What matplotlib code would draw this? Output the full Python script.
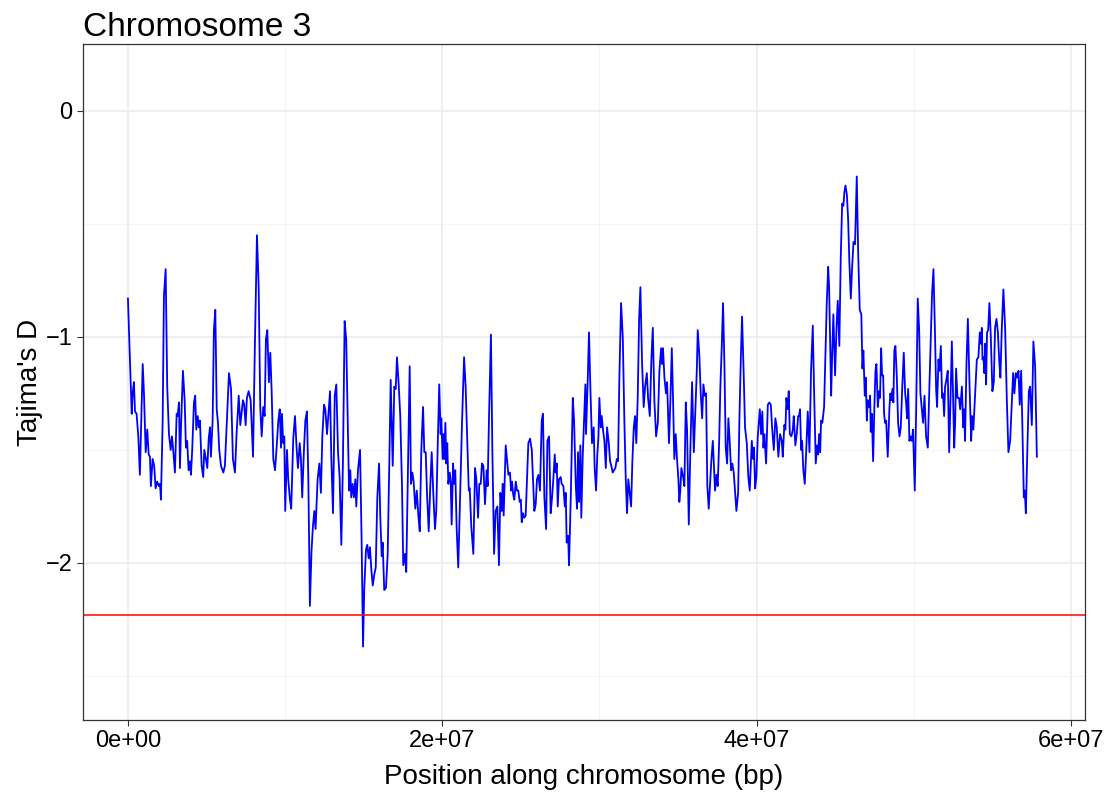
import numpy as np
import matplotlib
matplotlib.use('Agg')
import matplotlib.pyplot as plt
from matplotlib.ticker import FixedLocator, FuncFormatter

# Plot settings
plt.rcParams['font.family'] = ['Liberation Sans', 'DejaVu Sans']
plt.rcParams['font.size'] = 17

# Data: window position (Mb) and Tajima's D
pos_mb = [
    0.00, 0.24, 0.30, 0.38, 0.45, 0.55, 0.66, 0.76, 0.94, 1.02, 1.13, 1.23, 1.32, 1.40, 1.46, 1.57,
    1.67, 1.76, 1.86, 1.97, 2.04, 2.10, 2.21, 2.29, 2.40, 2.50, 2.61, 2.72, 2.80, 2.88, 2.99, 3.10,
    3.16, 3.25, 3.31, 3.39, 3.50, 3.61, 3.69, 3.77, 3.86, 3.95, 4.01, 4.09, 4.20, 4.28, 4.35, 4.44,
    4.52, 4.58, 4.69, 4.79, 4.86, 4.96, 5.05, 5.14, 5.22, 5.28, 5.39, 5.47, 5.56, 5.65, 5.73, 5.81,
    5.92, 6.07, 6.17, 6.35, 6.43, 6.56, 6.68, 6.81, 6.92, 7.05, 7.15, 7.32, 7.40, 7.49, 7.57, 7.68,
    7.81, 7.87, 7.96, 8.08, 8.21, 8.32, 8.42, 8.51, 8.61, 8.70, 8.78, 8.87, 8.97, 9.06, 9.15, 9.25,
    9.36, 9.46, 9.57, 9.66, 9.74, 9.80, 9.88, 9.95, 10.01, 10.12, 10.20, 10.31, 10.39, 10.52, 10.63, 10.74,
    10.82, 10.93, 11.01, 11.09, 11.20, 11.29, 11.39, 11.48, 11.58, 11.68, 11.77, 11.86, 11.94, 12.07, 12.18, 12.28,
    12.37, 12.48, 12.56, 12.67, 12.79, 12.86, 12.94, 13.05, 13.16, 13.26, 13.37, 13.47, 13.58, 13.68, 13.79, 13.89,
    13.96, 14.07, 14.15, 14.21, 14.30, 14.38, 14.47, 14.53, 14.64, 14.77, 14.87, 14.96, 15.04, 15.15, 15.23, 15.32,
    15.40, 15.49, 15.58, 15.68, 15.77, 15.87, 15.98, 16.06, 16.15, 16.21, 16.31, 16.42, 16.53, 16.63, 16.72, 16.85,
    16.95, 17.04, 17.12, 17.23, 17.33, 17.44, 17.52, 17.63, 17.71, 17.82, 17.93, 18.01, 18.10, 18.18, 18.29, 18.38,
    18.48, 18.57, 18.67, 18.78, 18.86, 18.95, 19.03, 19.14, 19.24, 19.33, 19.43, 19.54, 19.62, 19.71, 19.81, 19.90,
    19.94, 20.03, 20.09, 20.13, 20.20, 20.26, 20.32, 20.39, 20.48, 20.54, 20.60, 20.69, 20.75, 20.83, 20.92, 21.02,
    21.13, 21.26, 21.39, 21.49, 21.60, 21.69, 21.75, 21.85, 21.98, 22.09, 22.17, 22.28, 22.36, 22.45, 22.53, 22.62,
    22.72, 22.83, 22.89, 22.98, 23.10, 23.19, 23.30, 23.40, 23.51, 23.61, 23.70, 23.79, 23.85, 23.91, 23.98, 24.04,
    24.12, 24.21, 24.31, 24.38, 24.44, 24.52, 24.59, 24.68, 24.76, 24.84, 24.93, 25.00, 25.06, 25.14, 25.22, 25.31,
    25.38, 25.48, 25.59, 25.70, 25.78, 25.86, 25.95, 26.03, 26.12, 26.22, 26.33, 26.41, 26.50, 26.61, 26.69, 26.80,
    26.90, 26.99, 27.07, 27.16, 27.22, 27.29, 27.35, 27.43, 27.54, 27.60, 27.71, 27.80, 27.86, 27.92, 28.01, 28.07,
    28.18, 28.31, 28.39, 28.50, 28.58, 28.64, 28.71, 28.79, 28.85, 28.94, 29.04, 29.11, 29.15, 29.26, 29.34, 29.43,
    29.53, 29.64, 29.70, 29.79, 29.87, 29.94, 30.00, 30.09, 30.15, 30.23, 30.32, 30.41, 30.49, 30.60, 30.68, 30.76,
    30.85, 30.93, 31.02, 31.11, 31.19, 31.27, 31.38, 31.49, 31.59, 31.68, 31.76, 31.84, 31.93, 32.02, 32.10, 32.19,
    32.27, 32.35, 32.44, 32.53, 32.61, 32.72, 32.82, 32.91, 33.02, 33.10, 33.21, 33.31, 33.40, 33.50, 33.61, 33.72,
    33.82, 33.93, 33.99, 34.05, 34.14, 34.24, 34.31, 34.43, 34.52, 34.61, 34.69, 34.77, 34.86, 34.94, 35.03, 35.09,
    35.15, 35.22, 35.33, 35.41, 35.50, 35.58, 35.69, 35.79, 35.90, 36.01, 36.11, 36.20, 36.26, 36.36, 36.45, 36.54,
    36.62, 36.71, 36.79, 36.87, 36.96, 37.04, 37.13, 37.22, 37.28, 37.36, 37.45, 37.53, 37.62, 37.70, 37.79, 37.87,
    37.96, 38.04, 38.13, 38.21, 38.30, 38.38, 38.46, 38.55, 38.64, 38.72, 38.83, 38.91, 39.00, 39.08, 39.19, 39.27,
    39.38, 39.48, 39.57, 39.70, 39.78, 39.84, 39.91, 39.99, 40.08, 40.21, 40.29, 40.37, 40.44, 40.50, 40.61, 40.72,
    40.82, 40.91, 40.99, 41.10, 41.20, 41.29, 41.39, 41.50, 41.61, 41.67, 41.77, 41.84, 41.90, 41.99, 42.05, 42.12,
    42.22, 42.31, 42.37, 42.47, 42.56, 42.65, 42.71, 42.77, 42.84, 42.90, 42.98, 43.07, 43.16, 43.26, 43.37, 43.47,
    43.58, 43.68, 43.77, 43.86, 43.92, 43.98, 44.05, 44.11, 44.19, 44.30, 44.41, 44.47, 44.56, 44.62, 44.68, 44.75,
    44.81, 44.89, 45.00, 45.09, 45.17, 45.27, 45.36, 45.45, 45.53, 45.59, 45.66, 45.75, 45.83, 45.91, 46.00, 46.08,
    46.17, 46.27, 46.38, 46.47, 46.57, 46.67, 46.74, 46.80, 46.89, 46.95, 47.02, 47.08, 47.16, 47.23, 47.27, 47.34,
    47.42, 47.50, 47.57, 47.63, 47.72, 47.80, 47.86, 47.93, 47.99, 48.06, 48.12, 48.18, 48.25, 48.35, 48.46, 48.52,
    48.58, 48.65, 48.71, 48.77, 48.84, 48.93, 49.01, 49.10, 49.18, 49.27, 49.37, 49.46, 49.52, 49.58, 49.65, 49.73,
    49.79, 49.88, 49.96, 50.07, 50.16, 50.26, 50.35, 50.43, 50.52, 50.60, 50.69, 50.79, 50.90, 50.99, 51.09, 51.17,
    51.26, 51.35, 51.43, 51.49, 51.58, 51.64, 51.73, 51.81, 51.87, 51.94, 52.00, 52.08, 52.17, 52.26, 52.34, 52.43,
    52.51, 52.58, 52.64, 52.70, 52.79, 52.89, 52.96, 53.07, 53.15, 53.21, 53.27, 53.36, 53.45, 53.55, 53.66, 53.72,
    53.80, 53.91, 54.02, 54.12, 54.21, 54.27, 54.34, 54.38, 54.44, 54.50, 54.55, 54.61, 54.67, 54.74, 54.82, 54.91,
    55.01, 55.10, 55.18, 55.27, 55.36, 55.44, 55.52, 55.61, 55.71, 55.82, 55.93, 56.03, 56.14, 56.25, 56.33, 56.41,
    56.50, 56.58, 56.67, 56.75, 56.84, 56.92, 57.01, 57.07, 57.14, 57.22, 57.33, 57.41, 57.52, 57.62, 57.73, 57.84,
]
tajima_d = [
    -0.83, -1.34, -1.25, -1.20, -1.33, -1.34, -1.44, -1.61, -1.12, -1.25, -1.51, -1.41, -1.52, -1.53, -1.66, -1.54,
    -1.57, -1.67, -1.64, -1.66, -1.65, -1.72, -1.37, -0.82, -0.70, -1.22, -1.43, -1.50, -1.44, -1.50, -1.60, -1.34,
    -1.35, -1.29, -1.58, -1.37, -1.15, -1.28, -1.49, -1.46, -1.59, -1.55, -1.61, -1.50, -1.29, -1.26, -1.41, -1.35,
    -1.40, -1.37, -1.57, -1.62, -1.50, -1.54, -1.58, -1.45, -1.40, -1.53, -1.37, -0.97, -0.88, -1.32, -1.38, -1.50,
    -1.57, -1.60, -1.57, -1.28, -1.16, -1.23, -1.54, -1.60, -1.42, -1.26, -1.39, -1.28, -1.30, -1.39, -1.27, -1.24,
    -1.28, -1.38, -1.53, -1.03, -0.55, -0.78, -1.31, -1.44, -1.31, -1.35, -1.01, -0.97, -1.20, -1.07, -1.25, -1.54,
    -1.59, -1.49, -1.37, -1.32, -1.49, -1.34, -1.47, -1.44, -1.77, -1.50, -1.63, -1.72, -1.76, -1.45, -1.35, -1.50,
    -1.58, -1.47, -1.54, -1.71, -1.50, -1.37, -1.33, -1.63, -2.19, -1.95, -1.84, -1.77, -1.85, -1.63, -1.56, -1.69,
    -1.44, -1.30, -1.32, -1.43, -1.31, -1.24, -1.53, -1.78, -1.26, -1.21, -1.51, -1.62, -1.92, -1.56, -0.93, -1.01,
    -1.28, -1.68, -1.59, -1.71, -1.65, -1.71, -1.63, -1.75, -1.59, -1.50, -1.90, -2.37, -2.11, -1.94, -1.92, -1.98,
    -1.93, -2.03, -2.10, -2.05, -2.02, -1.71, -1.56, -1.80, -1.97, -1.91, -2.12, -2.11, -1.96, -1.57, -1.19, -1.57,
    -1.22, -1.23, -1.09, -1.21, -1.35, -1.66, -2.01, -1.96, -2.04, -1.57, -1.13, -1.65, -1.60, -1.64, -1.76, -1.68,
    -1.79, -1.86, -1.50, -1.31, -1.51, -1.51, -1.69, -1.86, -1.66, -1.51, -1.69, -1.85, -1.77, -1.49, -1.21, -1.43,
    -1.36, -1.54, -1.43, -1.54, -1.38, -1.56, -1.47, -1.65, -1.60, -1.64, -1.83, -1.56, -1.65, -1.59, -1.85, -2.02,
    -1.72, -1.38, -1.09, -1.22, -1.47, -1.68, -1.67, -1.84, -1.96, -1.58, -1.63, -1.80, -1.65, -1.65, -1.56, -1.57,
    -1.74, -1.59, -1.66, -1.35, -0.99, -1.50, -1.96, -1.77, -1.75, -2.01, -1.69, -1.77, -1.65, -1.79, -1.62, -1.48,
    -1.54, -1.61, -1.60, -1.68, -1.64, -1.70, -1.72, -1.64, -1.68, -1.68, -1.73, -1.72, -1.82, -1.78, -1.80, -1.79,
    -1.66, -1.47, -1.45, -1.50, -1.63, -1.77, -1.74, -1.63, -1.61, -1.68, -1.37, -1.34, -1.71, -1.85, -1.46, -1.44,
    -1.78, -1.71, -1.63, -1.52, -1.60, -1.56, -1.75, -1.63, -1.62, -1.65, -1.66, -1.75, -1.69, -1.91, -1.88, -2.01,
    -1.71, -1.27, -1.37, -1.66, -1.76, -1.51, -1.73, -1.48, -1.80, -1.53, -1.34, -1.21, -1.43, -1.19, -0.98, -1.23,
    -1.47, -1.40, -1.58, -1.68, -1.52, -1.44, -1.27, -1.40, -1.35, -1.41, -1.46, -1.58, -1.40, -1.47, -1.55, -1.57,
    -1.60, -1.59, -1.58, -1.54, -1.55, -1.19, -0.85, -1.00, -1.37, -1.63, -1.78, -1.63, -1.69, -1.75, -1.55, -1.40,
    -1.35, -1.47, -1.27, -0.92, -0.78, -1.12, -1.31, -1.22, -1.16, -1.27, -1.35, -1.10, -0.96, -1.28, -1.44, -1.38,
    -1.15, -1.05, -1.12, -1.05, -1.18, -1.25, -1.20, -1.47, -1.28, -1.05, -1.28, -1.54, -1.43, -1.54, -1.63, -1.73,
    -1.68, -1.58, -1.62, -1.66, -1.29, -1.41, -1.83, -1.50, -1.20, -1.51, -1.32, -1.15, -0.97, -1.08, -1.25, -1.36,
    -1.21, -1.26, -1.25, -1.66, -1.76, -1.66, -1.54, -1.46, -1.55, -1.68, -1.61, -1.66, -1.47, -1.22, -1.04, -0.85,
    -1.13, -1.49, -1.56, -1.36, -1.47, -1.59, -1.56, -1.60, -1.69, -1.77, -1.69, -1.37, -1.10, -0.91, -1.18, -1.40,
    -1.47, -1.62, -1.68, -1.46, -1.54, -1.49, -1.67, -1.62, -1.44, -1.32, -1.43, -1.33, -1.49, -1.43, -1.56, -1.30,
    -1.29, -1.30, -1.40, -1.50, -1.36, -1.40, -1.53, -1.43, -1.46, -1.53, -1.39, -1.41, -1.27, -1.32, -1.24, -1.43,
    -1.44, -1.41, -1.35, -1.48, -1.43, -1.35, -1.35, -1.32, -1.50, -1.46, -1.59, -1.65, -1.51, -1.33, -1.51, -1.15,
    -0.95, -1.29, -1.56, -1.48, -1.52, -1.43, -1.51, -1.37, -1.38, -1.31, -1.00, -0.85, -0.69, -0.78, -1.00, -1.26,
    -1.09, -0.90, -1.17, -0.96, -0.84, -1.04, -0.65, -0.41, -0.42, -0.36, -0.33, -0.37, -0.48, -0.67, -0.83, -0.70,
    -0.58, -0.59, -0.29, -0.63, -0.88, -0.90, -1.14, -1.06, -1.26, -1.18, -1.37, -1.28, -1.31, -1.26, -1.42, -1.34,
    -1.55, -1.31, -1.15, -1.12, -1.31, -1.24, -1.27, -1.05, -1.17, -1.17, -1.34, -1.38, -1.37, -1.53, -1.31, -1.25,
    -1.28, -1.23, -1.29, -1.06, -1.04, -1.18, -1.38, -1.44, -1.40, -1.23, -1.07, -1.25, -1.29, -1.36, -1.23, -1.46,
    -1.44, -1.46, -1.41, -1.68, -1.32, -0.83, -0.97, -1.25, -1.32, -1.38, -1.26, -1.44, -1.49, -1.25, -1.01, -0.81,
    -0.70, -0.96, -1.23, -1.31, -1.10, -1.15, -1.04, -1.27, -1.25, -1.35, -1.22, -1.19, -1.15, -1.51, -1.29, -1.02,
    -1.28, -1.49, -1.38, -1.14, -1.27, -1.27, -1.32, -1.22, -1.40, -1.32, -1.46, -1.12, -0.92, -1.20, -1.46, -1.35,
    -1.41, -1.25, -1.10, -1.09, -0.98, -1.03, -0.96, -1.10, -1.09, -1.16, -1.03, -1.21, -0.98, -0.97, -0.85, -1.00,
    -1.24, -1.20, -0.96, -0.92, -0.98, -1.10, -1.18, -0.96, -0.79, -0.96, -1.28, -1.51, -1.46, -1.28, -1.16, -1.25,
    -1.16, -1.18, -1.15, -1.30, -1.15, -1.40, -1.71, -1.68, -1.78, -1.54, -1.24, -1.22, -1.39, -1.02, -1.13, -1.53,
]
threshold = -2.23  # significance cut-off (red line)

x_ticks = [0, 2e7, 4e7, 6e7]
y_ticks = [-2, -1, 0]

def main():
    pos = np.array(pos_mb) * 1e6
    d = np.array(tajima_d)

    fig = plt.figure(figsize=(11.17, 7.92), dpi=100)
    ax = fig.add_axes([0.0743, 0.0909, 0.8970, 0.8535])

    # grid like ggplot theme_bw
    ax.set_axisbelow(True)
    ax.xaxis.set_major_locator(FixedLocator(x_ticks))
    ax.xaxis.set_minor_locator(FixedLocator([1e7, 3e7, 5e7]))
    ax.yaxis.set_major_locator(FixedLocator(y_ticks))
    ax.yaxis.set_minor_locator(FixedLocator([-2.5, -1.5, -0.5]))
    ax.grid(which='major', color='#EBEBEB', linewidth=1.1)
    ax.grid(which='minor', color='#F2F2F2', linewidth=0.6)

    ax.plot(pos, d, color='#0000FF', linewidth=1.3)
    ax.axhline(threshold, color='#FF0000', linewidth=1.1)

    ax.set_xlim(-2.86e6, 60.9e6)
    ax.set_ylim(-2.695, 0.296)

    ax.xaxis.set_major_formatter(FuncFormatter(lambda v, p: f'{v:.0e}'))
    ax.tick_params(which='major', direction='out', length=4.5, width=0.8, color='#333333',
                   labelsize=17, labelcolor='black', pad=3)
    ax.tick_params(which='minor', length=0)
    for s in ax.spines.values():
        s.set_color('#333333')
        s.set_linewidth(0.9)

    ax.set_xlabel('Position along chromosome (bp)', fontsize=20, labelpad=8)
    ax.set_ylabel("Tajima's D", fontsize=20, labelpad=2)
    ax.set_title('Chromosome 3', loc='left', fontsize=24, pad=6)

    fig.savefig('out.png', dpi=100)
    plt.close(fig)

if __name__ == "__main__":
    main()
